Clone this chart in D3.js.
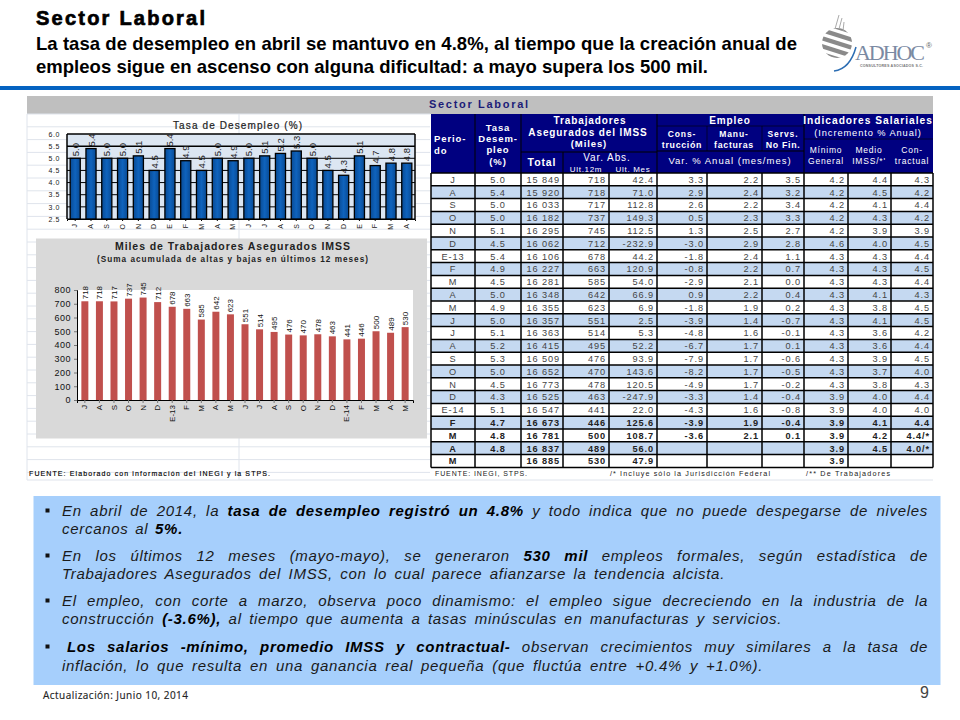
<!DOCTYPE html>
<html><head><meta charset="utf-8">
<script src="https://cdn.jsdelivr.net/npm/d3@7"></script>
<style>
html,body{margin:0;padding:0;background:#fff}
svg{display:block}
text{font-family:"Liberation Sans",Arial,sans-serif}
.axis path{stroke:#000}
</style></head><body>
<svg id="c" width="960" height="720"></svg>
<script>
// ---- Data
const desempleoMeses = ["J","A","S","O","N","D","E","F","M","A","M","J","J","A","S","O","N","D","E","F","M","A"];
const desempleoValores = [5.0,5.4,5.0,5.0,5.1,4.5,5.4,4.9,4.5,5.0,4.9,5.0,5.1,5.2,5.3,5.0,4.5,4.3,5.1,4.7,4.8,4.8];
const desempleoTicks = [2.5,3.0,3.5,4.0,4.5,5.0,5.5,6.0];
const imssMeses = ["J","A","S","O","N","D","E-13","F","M","A","M","J","J","A","S","O","N","D","E-14","F","M","A","M"];
const imssValores = [718,718,717,737,745,712,678,663,585,642,623,551,514,495,476,470,478,463,441,446,500,489,530];
const imssTicks = [0,100,200,300,400,500,600,700,800];
const periodo = ["J","A","S","O","N","D","E-13","F","M","A","M","J","J","A","S","O","N","D","E-14","F","M","A","M"];
const tasa = ["5.0","5.4","5.0","5.0","5.1","4.5","5.4","4.9","4.5","5.0","4.9","5.0","5.1","5.2","5.3","5.0","4.5","4.3","5.1","4.7","4.8","4.8",""];
const total = ["15 849","15 920","16 033","16 182","16 295","16 062","16 106","16 227","16 281","16 348","16 355","16 357","16 363","16 415","16 509","16 652","16 773","16 525","16 547","16 673","16 781","16 837","16 885"];
const varUlt12 = ["718","718","717","737","745","712","678","663","585","642","623","551","514","495","476","470","478","463","441","446","500","489","530"];
const varUltMes = ["42.4","71.0","112.8","149.3","112.5","-232.9","44.2","120.9","54.0","66.9","6.9","2.5","5.3","52.2","93.9","143.6","120.5","-247.9","22.0","125.6","108.7","56.0","47.9"];
const construccion = ["3.3","2.9","2.6","0.5","1.3","-3.0","-1.8","-0.8","-2.9","0.9","-1.8","-3.9","-4.8","-6.7","-7.9","-8.2","-4.9","-3.3","-4.3","-3.9","-3.6","",""];
const manufacturas = ["2.2","2.4","2.2","2.3","2.5","2.9","2.4","2.2","2.1","2.2","1.9","1.4","1.6","1.7","1.7","1.7","1.7","1.4","1.6","1.9","2.1","",""];
const servicios = ["3.5","3.2","3.4","3.3","2.7","2.8","1.1","0.7","0.0","0.4","0.2","-0.7","-0.1","0.1","-0.6","-0.5","-0.2","-0.4","-0.8","-0.4","0.1","",""];
const minimo = ["4.2","4.2","4.2","4.2","4.2","4.6","4.3","4.3","4.3","4.3","4.3","4.3","4.3","4.3","4.3","4.3","4.3","3.9","3.9","3.9","3.9","3.9","3.9"];
const medio = ["4.4","4.5","4.1","4.3","3.9","4.0","4.3","4.3","4.3","4.1","3.8","4.1","3.6","3.6","3.9","3.7","3.8","4.0","4.0","4.1","4.2","4.5",""];
const contractual = ["4.3","4.2","4.4","4.2","3.9","4.5","4.4","4.5","4.4","4.3","4.5","4.5","4.2","4.4","4.5","4.0","4.3","4.4","4.0","4.4","4.4/*","4.0/*",""];
const columnas = [periodo,tasa,total,varUlt12,varUltMes,construccion,manufacturas,servicios,minimo,medio,contractual];
const parrafos = [
 [[["En abril de 2014, la ",0],["tasa de desempleo registró un 4.8%",1],[" y todo indica que no puede despegarse de niveles",0]],[["cercanos al ",0],["5%.",1]]],
 [[["En los últimos 12 meses (mayo-mayo), se generaron ",0],["530 mil",1],[" empleos formales, según estadística de",0]],[["Trabajadores Asegurados del IMSS, con lo cual parece afianzarse la tendencia alcista.",0]]],
 [[["El empleo, con corte a marzo, observa poco dinamismo: el empleo sigue decreciendo en la industria de la",0]],[["construcción ",0],["(-3.6%),",1],[" al tiempo que aumenta a tasas minúsculas en manufacturas y servicios.",0]]],
 [[["Los salarios -mínimo, promedio IMSS y contractual-",1],[" observan crecimientos muy similares a la tasa de",0]],[["inflación, lo que resulta en una ganancia real pequeña (que fluctúa entre +0.4% y +1.0%).",0]]]
];

const svg = d3.select("#c");
const T = (x,y,s,o={}) => {
  const t = svg.append("text").attr("x",x).attr("y",y).text(s)
    .attr("font-size",o.size||8).attr("fill",o.fill||"#000")
    .attr("text-anchor",o.anchor||"start")
    .attr("font-weight",o.bold?"bold":"normal")
    .attr("font-style",o.italic?"italic":"normal");
  if(o.ls!==undefined) t.attr("letter-spacing",o.ls);
  if(o.stroke) t.attr("stroke",o.fill||"#000").attr("stroke-width",o.stroke);
  if(o.family) t.style("font-family",o.family);
  if(o.tl) t.attr("textLength",o.tl).attr("lengthAdjust","spacing");
  return t;
};
const L = (x1,y1,x2,y2,c,w) => svg.append("line").attr("x1",x1).attr("y1",y1).attr("x2",x2).attr("y2",y2).attr("stroke",c).attr("stroke-width",w);
const R = (x,y,w,h,f) => svg.append("rect").attr("x",x).attr("y",y).attr("width",w).attr("height",h).attr("fill",f);

// ---- Page header
T(36,25,"Sector Laboral",{size:20,bold:true,tl:169,stroke:0.7});
T(36,50,"La tasa de desempleo en abril se mantuvo en 4.8%, al tiempo que la creación anual de",{size:18.5,bold:true,tl:761});
T(36,73,"empleos sigue en ascenso con alguna dificultad: a mayo supera los 500 mil.",{size:18.5,bold:true,tl:672});
R(0,86,960,4,"#0563c1");

// ---- Logo
const defs = svg.append("defs");
defs.append("clipPath").attr("id","esf").append("circle").attr("cx",837).attr("cy",43).attr("r",15);
const esf = svg.append("g").attr("clip-path","url(#esf)");
d3.range(6).forEach(i => esf.append("line").attr("x1",818).attr("x2",856)
  .attr("y1",21+i*8).attr("y2",33+i*8).attr("stroke","#8a8a8a").attr("stroke-width",4.5));
[[835,29,839,15],[839,29,842,18],[843,31,844,22]].forEach(d=>L(d[0],d[1],d[2],d[3],"#aaa",1));
svg.append("path").attr("d","M834 71 Q850 69 856 47").attr("fill","none").attr("stroke","#2c6db3").attr("stroke-width",1.5);
T(855,60,"ADHOC",{size:22,fill:"#7b8aa3",family:"Liberation Serif",tl:70});
T(926,48,"®",{size:8,fill:"#666"});
T(860,67,"CONSULTORES ASOCIADOS S.C.",{size:3.6,fill:"#777",bold:true,tl:63});

// ---- Sheet background
R(27,96,906,18,"#bfbfbf");
d3.range(114,480,12.8).forEach(y => L(27,y,430,y,"#dfe4ec",1));
L(27,114,27,480,"#dfe4ec",1); L(239,114,239,480,"#dfe4ec",1);
L(27,480,933,480,"#dfe4ec",1);
T(429,108,"Sector Laboral",{size:11,bold:true,fill:"#1c1c78",tl:99});
T(29,476,"FUENTE: Elaborado con información del INEGI y la STPS.",{size:7,tl:241,stroke:0.15});

// ---- Chart 1: Tasa de desempleo
const p1 = {l:67,r:415,t:134,b:219};
const x1 = d3.scaleBand().domain(d3.range(desempleoMeses.length)).range([p1.l,p1.r]).paddingInner(0.36).paddingOuter(0.2);
const y1 = d3.scaleLinear().domain([2.5,6.0]).range([p1.b,p1.t]);
R(p1.l,p1.t,p1.r-p1.l,p1.b-p1.t,"#dce6f2");
desempleoTicks.forEach(v => L(p1.l,y1(v),p1.r,y1(v),"#000",(v>=5.5)?1.5:1));
L(p1.l,p1.t,p1.l,p1.b,"#000",1.5); L(p1.r,p1.t,p1.r,p1.b,"#000",1.5);
const gr = defs.append("linearGradient").attr("id","az");
gr.append("stop").attr("offset","0").attr("stop-color","#084a94");
gr.append("stop").attr("offset","0.5").attr("stop-color","#0f63bd");
gr.append("stop").attr("offset","1").attr("stop-color","#084a94");
svg.append("g").selectAll("rect").data(desempleoValores).join("rect")
  .attr("x",(d,i)=>x1(i)).attr("width",x1.bandwidth())
  .attr("y",d=>y1(d)).attr("height",d=>y1(2.5)-y1(d))
  .attr("fill","url(#az)").attr("stroke","#000").attr("stroke-width",1.3);
svg.append("g").selectAll("text").data(desempleoValores).join("text")
  .attr("transform",(d,i)=>`translate(${x1(i)+x1.bandwidth()/2+3.5},${y1(d)-2}) rotate(-90)`)
  .attr("font-size",9.5).attr("fill","#222").text(d=>d.toFixed(1));
const a1y = svg.append("g").attr("class","axis").attr("transform",`translate(${p1.l},0)`)
  .call(d3.axisLeft(y1).tickValues(desempleoTicks).tickFormat(d3.format(".1f")).tickSize(0).tickPadding(7));
a1y.select("path").remove();
a1y.selectAll("text").attr("font-size",7).attr("letter-spacing",0.6).attr("fill","#222");
const a1x = svg.append("g").attr("class","axis").attr("transform",`translate(0,${p1.b})`)
  .call(d3.axisBottom(x1).tickFormat(i=>desempleoMeses[i]).tickSize(2));
a1x.selectAll("text").attr("font-size",7).attr("fill","#222")
  .attr("transform","rotate(-90)").attr("x",-5).attr("y",0).attr("dy","0.32em").attr("text-anchor","end");
T(173,129,"Tasa de Desempleo  (%)",{size:10,tl:129,stroke:0.2,fill:"#222"});

// ---- Chart 2: Trabajadores asegurados
R(36,238.5,391,200,"#d9d9d9");
const p2 = {l:77,r:413,t:290,b:400};
R(p2.l,p2.t,p2.r-p2.l,p2.b-p2.t,"#fff");
const x2 = d3.scaleBand().domain(d3.range(imssMeses.length)).range([p2.l,p2.r]).paddingInner(0.52).paddingOuter(0.3);
const y2 = d3.scaleLinear().domain([0,800]).range([p2.b,p2.t]);
svg.append("g").selectAll("rect").data(imssValores).join("rect")
  .attr("x",(d,i)=>x2(i)).attr("width",x2.bandwidth())
  .attr("y",d=>y2(d)).attr("height",d=>y2(0)-y2(d)).attr("fill","#c0504d");
svg.append("g").selectAll("text").data(imssValores).join("text")
  .attr("transform",(d,i)=>`translate(${x2(i)+x2.bandwidth()/2+3},${y2(d)-2}) rotate(-90)`)
  .attr("font-size",8).attr("fill","#111").text(d=>d);
const a2y = svg.append("g").attr("class","axis").attr("transform",`translate(${p2.l},0)`)
  .call(d3.axisLeft(y2).tickValues(imssTicks).tickSize(3).tickPadding(3));
a2y.select("path").attr("stroke","#777"); a2y.selectAll("line").attr("stroke","#777");
a2y.selectAll("text").attr("font-size",9).attr("letter-spacing",0.5).attr("fill","#111");
const a2x = svg.append("g").attr("class","axis").attr("transform",`translate(0,${p2.b})`)
  .call(d3.axisBottom(x2).tickFormat(i=>imssMeses[i]).tickSize(3));
a2x.select("path").attr("stroke","#777"); a2x.selectAll("line").attr("stroke","#777");
a2x.selectAll("text").attr("font-size",8).attr("fill","#111")
  .attr("transform","rotate(-90)").attr("x",-5).attr("y",0).attr("dy","0.32em").attr("text-anchor","end");
T(115,250,"Miles de Trabajadores Asegurados IMSS",{size:10.5,bold:true,tl:235,fill:"#222"});
T(97,262,"(Suma acumulada de altas y bajas en últimos 12 meses)",{size:8.2,bold:true,tl:271,fill:"#222"});

// ---- Table
const cx = [431,475,521,563,609,657,707,762,804,848,891,933];
const hTop = 114, rTop = 173, rH = 12.8;
const hC = "#fff";
R(cx[0],hTop,cx[11]-cx[0],rTop-hTop,"#000080");
periodo.forEach((_,i)=>R(cx[0],rTop+i*rH,cx[11]-cx[0],rH,i%2? "#c5d9f1":"#fff"));
const rEnd = rTop+periodo.length*rH;
columnas.forEach((col,c)=>{
  const center = c<2;
  col.forEach((v,i)=>{
    const bold = i>=19;
    T(center?(cx[c]+cx[c+1])/2:cx[c+1]-3, rTop+(i+1)*rH-3, v,
      {size:9.2,anchor:center?"middle":"end",ls:0.9,fill:bold?"#222":"#444",bold});
  });
});
d3.range(periodo.length+1).forEach(i=>L(cx[0],rTop+i*rH,cx[11],rTop+i*rH,"#000",1.5));
cx.forEach(x=>L(x,rTop,x,rEnd,"#000",1.5));
[475,521,657,804].forEach(x=>L(x,hTop,x,rTop,"#000",1));
L(707,126,707,151,"#000",0.6);L(762,126,762,151,"#000",0.6);
L(521,152,657,152,"#000",1);L(657,126,804,126,"#000",0.6);L(657,151,804,151,"#000",1);L(804,139,933,139,"#000",0.6);
L(563,152,563,173,"#000",1);
const H=(x,y,s,o={})=>T(x,y,s,Object.assign({size:9.5,anchor:"middle",bold:true,fill:hC,ls:0.9},o));
H(434,142,"Perio-",{anchor:"start"});H(434,154,"do",{anchor:"start"});
H(498,131,"Tasa");H(498,142,"Desem-");H(498,153,"pleo");H(498,165,"(%)");
H(590,124,"Trabajadores",{size:10});H(588,136,"Asegurados del IMSS",{size:10});H(589,147,"(Miles)",{size:9.5});
H(542,166,"Total",{size:10.5});
H(607,161,"Var. Abs.",{size:10,bold:false});
H(586,171.5,"Ult.12m",{size:8,bold:false,ls:0.7});H(633,171.5,"Ult. Mes",{size:8,bold:false,ls:0.7});
H(730,124,"Empleo",{size:10});
H(682,137,"Cons-",{size:8.5});H(682,148,"trucción",{size:8.8,ls:0.7});
H(734,137,"Manu-",{size:8.5});H(734,148,"facturas",{size:8.8,ls:0.7});
H(783,137,"Servs.",{size:8.5});H(783,148,"No Fin.",{size:8.8,ls:0.7});
H(730,164,"Var. % Anual (mes/mes)",{size:9.5,ls:1,bold:false});
H(868,124,"Indicadores Salariales",{size:10.2,ls:1});H(868,136,"(Incremento % Anual)",{size:9.3,ls:0.9,bold:false});
H(826,153,"Mínimo",{size:8.5,ls:0.8,bold:false});H(826,164,"General",{size:8.5,ls:0.8,bold:false});
H(869,153,"Medio",{size:8.5,ls:0.8,bold:false});H(869,164,"IMSS/*'",{size:8.5,ls:0.8,bold:false});
H(912,153,"Con-",{size:8.5,ls:0.8,bold:false});H(912,164,"tractual",{size:8.5,ls:0.8,bold:false});
T(435,476,"FUENTE: INEGI, STPS.",{size:7,tl:92,fill:"#222"});
T(610,476,"/* Incluye sólo la Jurisdicción Federal",{size:7.2,tl:160,fill:"#222"});
T(806,476,"/** De Trabajadores",{size:7.2,tl:84,fill:"#222"});

// ---- Commentary box
R(33.5,496,907,189,"#a6cffc");
const baselines = [[516,534],[561,579],[606,624],[652,671]];
const inicios = [62,62,62,67];
const finLinea = [[928,183],[928,725],[928,782],[928,763]];
parrafos.forEach((p,pi)=>{
  R(45.5,baselines[pi][0]-7.5,4,4,"#111");
  p.forEach((linea,li)=>{
    const x0 = li===0?inicios[pi]:62;
    const t = svg.append("text").attr("x",x0).attr("y",baselines[pi][li])
      .attr("font-size",15).attr("font-style","italic").attr("fill","#1a1a1a").attr("letter-spacing",0.7);
    linea.forEach(([s,b])=>t.append("tspan").text(s).attr("font-weight",b?"bold":"normal").attr("fill",b?"#000":"#1a1a1a"));
    const w = t.node().getComputedTextLength();
    const n = linea.map(d=>d[0]).join("").split(" ").length-1;
    t.attr("word-spacing",(finLinea[pi][li]-x0-w)/n);
  });
});

// ---- Footer
T(43,699,"Actualización:  Junio 10, 2014",{size:10,fill:"#222",family:"Open Sans",tl:145,stroke:0.15});
T(920,698,"9",{size:16,fill:"#444"});
</script>
</body></html>
